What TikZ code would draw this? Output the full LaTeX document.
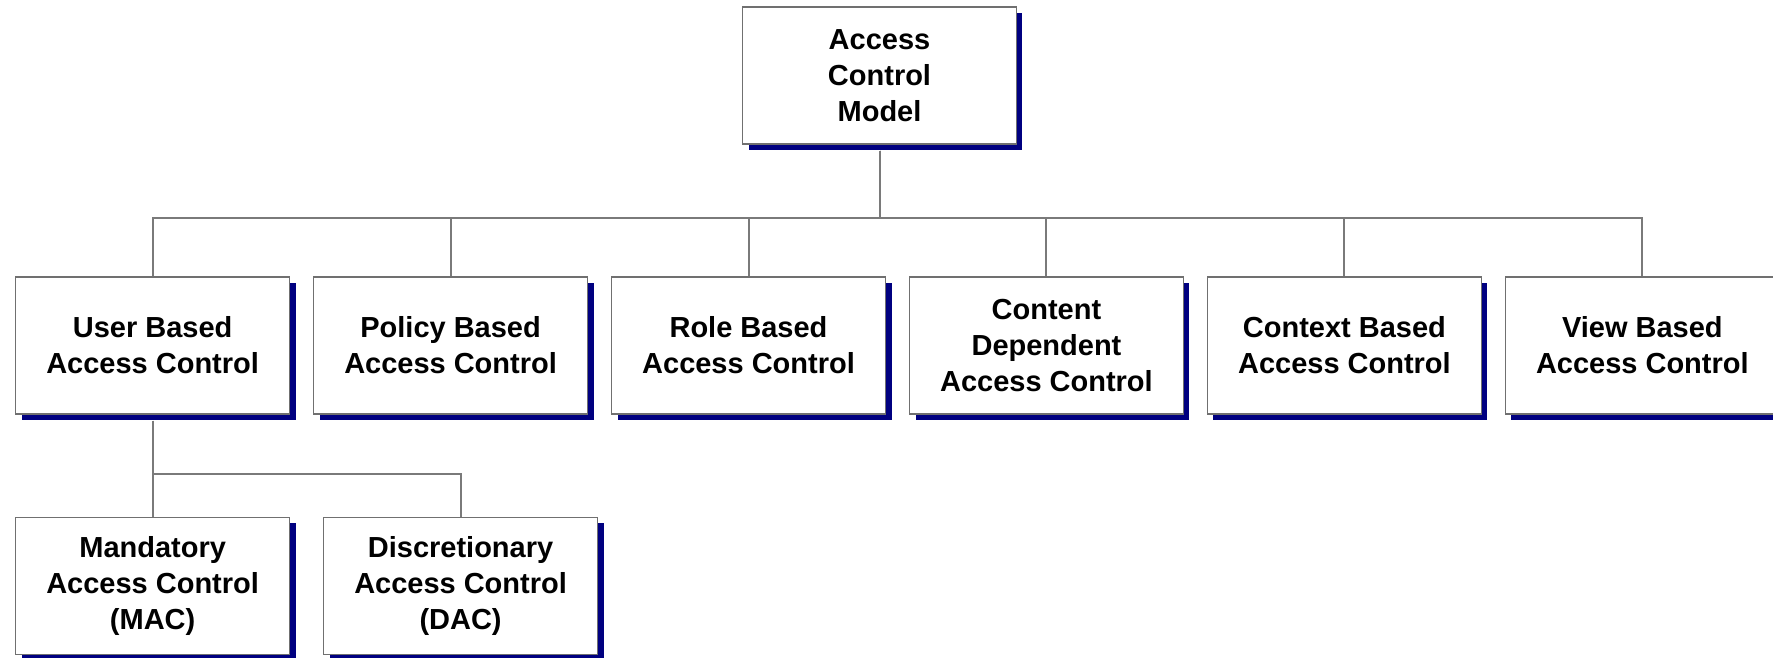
\documentclass[tikz,border=0pt]{standalone}
\usepackage{fontspec}
\setmainfont{Liberation Sans}
\usetikzlibrary{shadows}
\definecolor{boxgray}{HTML}{707070}
\definecolor{linegray}{HTML}{7A7A7A}
\definecolor{shadowblue}{HTML}{000080}

\begin{document}
\begin{tikzpicture}[x=0.02cm,y=0.02cm,
  box/.style={draw=boxgray,line width=0.03cm,fill=white,align=center,
    minimum width=5.48cm,minimum height=2.74cm,inner sep=0pt,
    font=\bfseries\fontsize{16.5}{20.5}\selectfont,
    drop shadow={shadow xshift=0.12cm,shadow yshift=-0.12cm,fill=shadowblue,opacity=1}},
  edge from parent/.style={draw=linegray,line width=0.04cm},
  level 1/.style={sibling distance=5.96cm,level distance=5.4cm,
    every child node/.style={box,xshift=0.36cm},
    edge from parent path={([yshift=-0.12cm]\tikzparentnode.south) -- ++(0,-1.34cm) -| (\tikzchildnode.north)}},
  level 2/.style={sibling distance=6.16cm,level distance=4.81cm,
    every child node/.style={box,xshift=3.08cm},
    edge from parent path={([yshift=-0.12cm]\tikzparentnode.south) -- ++(0,-1.06cm) -| (\tikzchildnode.north)}}]
\useasboundingbox (0,0) rectangle (1773,-657);
\node [box] (acm) at (879.5,-75.5) {Access\\Control\\Model}
  child {node (ubac) {User Based\\Access Control}
    child {node (mac) {Mandatory\\Access Control\\(MAC)}
      }
    child {node (dac) {Discretionary\\Access Control\\(DAC)}
  }
  }
  child {node (pbac) {Policy Based\\Access Control}
  }
  child {node (rbac) {Role Based\\Access Control}
  }
  child {node (cdac) {Content\\Dependent\\Access Control}
  }
  child {node (cbac) {Context Based\\Access Control}
  }
  child {node (vbac) {View Based\\Access Control}
  };
\end{tikzpicture}
\end{document}
